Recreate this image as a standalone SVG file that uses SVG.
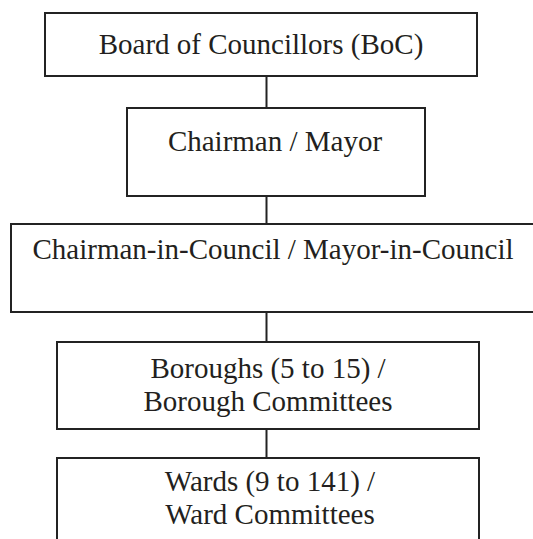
<svg xmlns="http://www.w3.org/2000/svg" width="533" height="539" viewBox="0 0 533 539">
<style>
.box{fill:#fff;stroke:#232323;stroke-width:2}
.lbl{font-family:'Liberation Serif','Times New Roman',serif;font-size:29px;fill:#231f20;text-anchor:middle}
.con{stroke:#232323;stroke-width:2;fill:none}
</style>
<rect width="533" height="539" fill="#fff"/>
<g id="connectors">
<line class="con" x1="266.5" y1="76" x2="266.5" y2="108"/>
<line class="con" x1="266.5" y1="196" x2="266.5" y2="224"/>
<line class="con" x1="266.5" y1="312" x2="266.5" y2="342"/>
<line class="con" x1="266.5" y1="429" x2="266.5" y2="458"/>
</g>
<g id="boc">
<rect class="box" x="45" y="13" width="432" height="63"/>
<text class="lbl" x="261" y="54">Board of Councillors (BoC)</text>
</g>
<g id="chairman">
<rect class="box" x="127" y="108" width="298" height="88"/>
<text class="lbl" x="275" y="151">Chairman / Mayor</text>
</g>
<g id="mic">
<rect class="box" x="11" y="224" width="540" height="88"/>
<text class="lbl" x="273" y="259">Chairman-in-Council / Mayor-in-Council</text>
</g>
<g id="boroughs">
<rect class="box" x="57" y="342" width="422" height="87"/>
<text class="lbl" x="268" y="378">Boroughs (5 to 15) /</text>
<text class="lbl" x="268" y="411">Borough Committees</text>
</g>
<g id="wards">
<rect class="box" x="57" y="458" width="422" height="100"/>
<text class="lbl" x="270" y="491">Wards (9 to 141) /</text>
<text class="lbl" x="270" y="524">Ward Committees</text>
</g>
</svg>
